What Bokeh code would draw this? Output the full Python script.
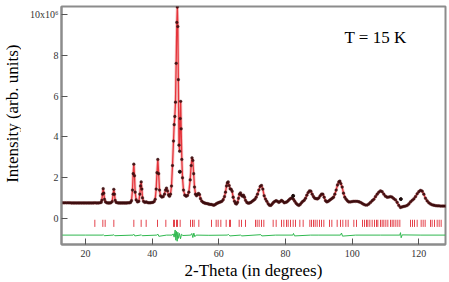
from bokeh.plotting import figure
from bokeh.models import Range1d, Label, FixedTicker
from bokeh.layouts import row
from bokeh.core.properties import value
from bokeh.embed import file_html
from bokeh.resources import INLINE

# ---- data ----
two_theta = [
    12.8, 13.3, 13.8, 14.3, 14.8, 15.3, 15.8, 16.3, 16.8, 17.3,
    17.8, 18.3, 18.8, 19.3, 19.8, 20.3, 20.8, 21.3, 21.8, 22.3,
    22.8, 23.3, 23.8, 24.3, 24.7, 24.9, 25.1, 25.3, 25.5, 25.7,
    26.0, 26.4, 26.8, 27.2, 27.6, 28.0, 28.3, 28.5, 28.7, 28.9,
    29.2, 29.6, 30.0, 30.4, 30.8, 31.2, 31.6, 32.0, 32.4, 32.8,
    33.2, 33.5, 33.8, 34.1, 34.3, 34.5, 34.7, 34.9, 35.2, 35.6,
    36.0, 36.3, 36.5, 36.7, 36.9, 37.1, 37.4, 37.8, 38.2, 38.6,
    39.0, 39.4, 39.8, 40.2, 40.6, 40.9, 41.2, 41.45, 41.7, 41.95,
    42.2, 42.5, 42.9, 43.3, 43.7, 44.0, 44.3, 44.6, 44.9, 45.2,
    45.5, 45.8, 46.1, 46.4, 46.6, 46.8, 47.0, 47.2, 47.4, 47.55,
    47.7, 47.85, 48.05, 48.25, 48.4, 48.55, 48.7, 48.9, 49.1, 49.4,
    49.8, 50.2, 50.6, 51.0, 51.4, 51.7, 51.95, 52.2, 52.45, 52.7,
    53.0, 53.3, 53.6, 53.9, 54.2, 54.5, 54.9, 55.3, 55.7, 56.1,
    56.5, 56.9, 57.3, 57.7, 58.1, 58.5, 58.9, 59.3, 59.7, 60.1,
    60.5, 60.9, 61.3, 61.7, 62.0, 62.3, 62.55, 62.8, 63.1, 63.4,
    63.7, 64.0, 64.3, 64.7, 65.0, 65.3, 65.6, 65.9, 66.2, 66.5,
    66.8, 67.1, 67.4, 67.7, 68.0, 68.4, 68.8, 69.2, 69.6, 70.0,
    70.4, 70.8, 71.2, 71.6, 72.0, 72.4, 72.8, 73.2, 73.6, 74.0,
    74.4, 74.8, 75.2, 75.6, 76.0, 76.4, 76.8, 77.2, 77.6, 78.0,
    78.4, 78.8, 79.2, 79.6, 80.0, 80.4, 80.8, 81.2, 81.6, 82.0,
    82.4, 82.8, 83.2, 83.6, 84.0, 84.4, 84.8, 85.2, 85.6, 86.0,
    86.4, 86.8, 87.2, 87.6, 88.0, 88.4, 88.8, 89.2, 89.6, 90.0,
    90.4, 90.8, 91.2, 91.6, 92.0, 92.4, 92.8, 93.2, 93.6, 94.0,
    94.4, 94.8, 95.2, 95.6, 96.0, 96.3, 96.6, 97.0, 97.4, 97.8,
    98.2, 98.6, 99.0, 99.5, 100.0, 100.5, 101.0, 101.5, 102.0, 102.5,
    103.0, 103.5, 104.0, 104.5, 105.0, 105.5, 106.0, 106.5, 107.0, 107.5,
    108.0, 108.5, 109.0, 109.5, 110.0, 110.5, 111.0, 111.5, 112.0, 112.5,
    113.0, 113.5, 114.0, 114.5, 115.0, 115.5, 116.0, 116.5, 117.0, 117.5,
    118.0, 118.5, 119.0, 119.5, 120.0, 120.5, 121.0, 121.5, 122.0, 122.5,
    123.0, 123.5, 124.0, 124.5, 125.0, 125.5, 126.0, 126.5, 127.0, 127.5,
    128.0,
]
intensity_calc = [
    0.78, 0.78, 0.78, 0.78, 0.78, 0.78, 0.77, 0.77, 0.77, 0.77,
    0.77, 0.77, 0.77, 0.77, 0.77, 0.77, 0.77, 0.77, 0.77, 0.77,
    0.78, 0.77, 0.77, 0.78, 0.80, 0.90, 1.20, 1.47, 1.25, 0.95,
    0.82, 0.78, 0.77, 0.77, 0.78, 0.84, 1.20, 1.44, 1.20, 0.90,
    0.80, 0.78, 0.77, 0.77, 0.77, 0.77, 0.77, 0.77, 0.77, 0.78,
    0.78, 0.80, 0.88, 1.40, 2.20, 2.67, 2.10, 1.30, 0.92, 0.82,
    0.85, 1.20, 1.60, 1.80, 1.45, 1.02, 0.85, 0.80, 0.82, 0.79,
    0.78, 0.78, 0.79, 0.80, 0.84, 0.95, 1.45, 2.25, 2.90, 2.20,
    1.40, 1.12, 1.06, 1.08, 1.20, 1.40, 1.50, 1.36, 1.16, 1.10,
    1.20, 1.60, 2.60, 3.80, 4.60, 5.00, 5.70, 7.60, 9.60, 10.35,
    9.40, 6.80, 3.60, 3.30, 4.90, 5.74, 4.40, 2.90, 2.00, 1.40,
    1.15, 1.10, 1.14, 1.30, 1.90, 2.60, 2.98, 2.85, 2.20, 1.55,
    1.20, 1.12, 1.18, 1.24, 1.18, 0.98, 0.86, 0.80, 0.77, 0.75,
    0.74, 0.72, 0.70, 0.70, 0.68, 0.66, 0.69, 0.74, 0.77, 0.80,
    0.82, 0.85, 0.93, 1.08, 1.30, 1.60, 1.75, 1.80, 1.62, 1.46,
    1.44, 1.34, 1.05, 0.85, 0.75, 0.72, 0.80, 1.00, 1.20, 1.26,
    1.15, 1.10, 1.15, 1.05, 0.90, 0.80, 0.76, 0.77, 0.80, 0.85,
    0.90, 0.95, 1.05, 1.20, 1.40, 1.58, 1.63, 1.45, 1.12, 0.96,
    0.85, 0.73, 0.66, 0.65, 0.72, 0.80, 0.85, 0.88, 0.85, 0.80,
    0.84, 0.90, 0.85, 0.78, 0.80, 0.82, 0.88, 0.95, 1.00, 1.02,
    0.95, 0.85, 0.75, 0.69, 0.65, 0.70, 0.78, 0.85, 0.90, 1.00,
    1.15, 1.28, 1.36, 1.35, 1.20, 1.08, 1.00, 0.98, 0.97, 1.02,
    1.12, 1.20, 1.20, 1.05, 0.88, 0.82, 0.85, 0.90, 0.95, 1.00,
    1.05, 1.20, 1.40, 1.65, 1.80, 1.84, 1.72, 1.55, 1.25, 1.05,
    0.95, 0.87, 0.82, 0.82, 0.84, 0.85, 0.85, 0.85, 0.83, 0.80,
    0.75, 0.70, 0.67, 0.67, 0.72, 0.80, 0.88, 0.95, 1.08, 1.20,
    1.30, 1.36, 1.32, 1.20, 1.10, 1.05, 1.06, 1.08, 1.05, 0.98,
    0.92, 0.80, 0.65, 0.55, 0.58, 0.60, 0.62, 0.65, 0.72, 0.82,
    0.90, 0.97, 1.08, 1.22, 1.32, 1.39, 1.35, 1.20, 1.00, 0.87,
    0.78, 0.72, 0.68, 0.66, 0.64, 0.63, 0.63, 0.62, 0.62, 0.62,
    0.62,
]
# observed points follow the calculated profile, plus a few visible outliers
intensity_obs = list(intensity_calc)
outlier_theta = [48.3, 82.3, 114.6]
outlier_obs = [2.30, 1.12, 0.96]

bragg_positions = [
    22.8, 25.2, 25.9, 28.5, 34.5, 36.7, 38.2, 41.6, 44.1, 46.4,
    46.7, 47.3, 47.6, 48.4, 51.5, 52.1, 52.6, 54.0, 57.8, 59.2,
    59.8, 60.6, 62.2, 63.2, 63.5, 66.1, 66.8, 68.0, 71.0, 71.5,
    72.1, 72.8, 73.5, 76.3, 77.2, 78.8, 79.5, 80.3, 80.8, 81.5,
    82.3, 83.0, 84.3, 85.3, 87.3, 87.8, 88.4, 88.9, 89.5, 90.2,
    90.8, 91.5, 93.2, 93.9, 95.5, 96.5, 97.2, 98.1, 98.8, 100.5,
    101.3, 103.1, 103.7, 104.3, 104.7, 105.3, 106.0, 106.7, 107.3, 107.7,
    108.5, 109.0, 109.5, 110.1, 110.7, 111.5, 112.0, 112.5, 113.1, 113.7,
    114.3, 117.5, 118.1, 118.7, 119.5, 120.7, 121.3, 121.9, 123.5, 124.0,
    124.7, 125.5, 126.1, 126.7,
]
bragg_top = -0.05
bragg_bottom = -0.40

diff_theta = [
    12.8, 20.0, 25.1, 25.3, 25.6, 28.3, 28.5, 28.8, 34.3, 34.5,
    34.8, 36.5, 36.7, 37.0, 41.4, 41.7, 42.0, 44.3, 46.0, 46.3,
    46.6, 46.9, 47.1, 47.3, 47.5, 47.7, 47.9, 48.2, 48.5, 48.8,
    49.2, 51.6, 51.9, 52.2, 52.5, 52.8, 53.2, 57.0, 62.5, 62.9,
    63.3, 66.5, 66.9, 72.6, 72.9, 77.0, 82.2, 82.4, 82.7, 87.5,
    90.0, 96.5, 96.8, 97.1, 101.0, 108.5, 114.3, 114.5, 114.7, 115.0,
    120.6, 128.0,
]
diff_values = [
    -0.80, -0.80, -0.80, -0.77, -0.83, -0.80, -0.78, -0.83, -0.80, -0.76,
    -0.84, -0.80, -0.78, -0.83, -0.80, -0.75, -0.86, -0.80, -0.80, -0.74,
    -0.90, -0.55, -1.05, -0.62, -1.10, -0.66, -0.96, -0.72, -0.98, -0.76,
    -0.82, -0.80, -0.72, -0.92, -0.70, -0.88, -0.80, -0.81, -0.80, -0.77,
    -0.84, -0.80, -0.84, -0.78, -0.84, -0.80, -0.80, -0.72, -0.84, -0.80,
    -0.80, -0.80, -0.70, -0.85, -0.80, -0.80, -0.80, -0.68, -0.93, -0.79,
    -0.80, -0.80,
]

x_ticks = [20, 40, 60, 80, 100, 120]
y_ticks = [0, 2, 4, 6, 8, 10]
y_tick_labels = {10: "10x10\u2076"}
y_title = "Intensity (arb. units)"
x_title = "2-Theta (in degrees)"

# ---- figures ----
SERIF = "Liberation Serif"
X_MIN, X_MAX, Y_MIN, Y_MAX = 12.8, 128, -1.26, 10.38
TITLE_W = 21  # narrow strip holding the vertical axis title

# strip with the y-axis title
t = figure(width=TITLE_W, height=282, x_range=Range1d(0, TITLE_W), y_range=Range1d(0, 282),
           x_axis_type=None, y_axis_type=None, output_backend="svg",
           toolbar_location=None, min_border=0)
t.outline_line_color = None
t.grid.visible = False
t.text(x=[12.0], y=[282 - 127], text=[y_title], angle=1.5708,
       text_font=value(SERIF), text_font_size="17px", text_color="black",
       text_align="center", text_baseline="alphabetic")

p = figure(width=449 - TITLE_W, height=282,
           x_range=Range1d(X_MIN, X_MAX), y_range=Range1d(Y_MIN, Y_MAX),
           output_backend="svg", toolbar_location=None,
           min_border_left=61 - TITLE_W, min_border_right=4,
           min_border_top=6, min_border_bottom=34)
p.background_fill_color = "white"
p.border_fill_color = "white"
p.outline_line_color = "#8c8c8c"
p.outline_line_width = 2
p.grid.visible = False

# calculated profile (red line with a light halo)
p.line(two_theta, intensity_calc, line_color="#f08a8a", line_width=3.0, line_alpha=0.5)
p.line(two_theta, intensity_calc, line_color="#e5343b", line_width=1.3)
# observed points
p.scatter(two_theta, intensity_obs, marker="circle", size=2.8,
          fill_color="#3a0c0e", line_color="#3a0c0e", line_width=0.3, fill_alpha=0.9)
p.scatter(outlier_theta, outlier_obs, marker="circle", size=3.0,
          fill_color="#1a0a0a", line_color="#1a0a0a")
# Bragg positions
p.segment(x0=bragg_positions, y0=[bragg_top] * len(bragg_positions),
          x1=bragg_positions, y1=[bragg_bottom] * len(bragg_positions),
          line_color="#e4434c", line_width=1)
# difference curve
p.line(diff_theta, diff_values, line_color="#2fb84f", line_width=1)

p.add_layout(Label(x=97.7, y=8.88, text="T = 15 K", text_font=SERIF,
                   text_font_size="17px", text_color="black",
                   text_baseline="alphabetic"))

for ax in (p.xaxis[0], p.yaxis[0]):
    ax.axis_line_color = "#8c8c8c"
    ax.axis_line_width = 2
    ax.major_tick_line_color = "#555555"
    ax.major_tick_line_width = 1
    ax.major_tick_in = 6
    ax.major_tick_out = 0
    ax.minor_tick_line_color = None
    ax.major_label_text_font = SERIF
    ax.major_label_text_font_size = "10px"
    ax.major_label_text_color = "#333333"
    ax.axis_label_text_font = SERIF
    ax.axis_label_text_font_size = "17px"
    ax.axis_label_text_font_style = "normal"
    ax.axis_label_text_color = "black"

p.xaxis.ticker = FixedTicker(ticks=x_ticks)
p.yaxis.ticker = FixedTicker(ticks=y_ticks)
p.yaxis.major_label_overrides = y_tick_labels
p.xaxis.axis_label = x_title
p.xaxis.major_label_standoff = 5
p.yaxis.major_label_standoff = 3
p.xaxis.axis_label_standoff = 1

layout = row(t, p, spacing=0)
open("out.html", "w").write(file_html(layout, INLINE))
